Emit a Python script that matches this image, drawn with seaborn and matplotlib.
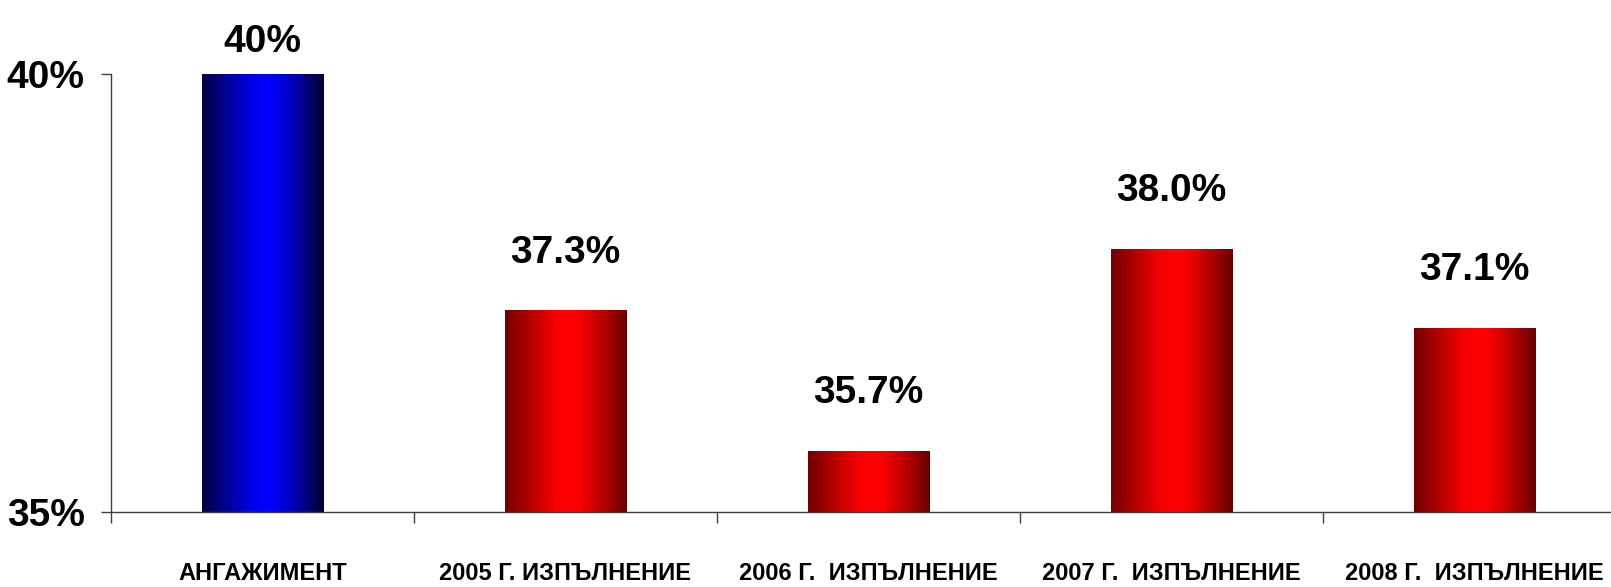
import numpy as np
import pandas as pd
import matplotlib
matplotlib.use('Agg')
import matplotlib.pyplot as plt
import seaborn as sns
from matplotlib.colors import LinearSegmentedColormap

# Chart data
categories = ['АНГАЖИМЕНТ', '2005 Г. ИЗПЪЛНЕНИЕ', '2006 Г.  ИЗПЪЛНЕНИЕ',
              '2007 Г.  ИЗПЪЛНЕНИЕ', '2008 Г.  ИЗПЪЛНЕНИЕ']
values = [40.0, 37.3, 35.7, 38.0, 37.1]
value_labels = ['40%', '37.3%', '35.7%', '38.0%', '37.1%']
ytick_values = [35, 40]
ytick_labels = ['35%', '40%']
kinds = ['target', 'actual', 'actual', 'actual', 'actual']

df = pd.DataFrame({'category': categories, 'value': values, 'kind': kinds})

sns.set_theme(style='white')
plt.rcParams['font.family'] = ['Liberation Sans', 'DejaVu Sans']
plt.rcParams['font.weight'] = 'bold'

fig = plt.figure(figsize=(16.11, 5.87), dpi=100)
ax = fig.add_axes([0.0689, 0.1278, 0.9404, 0.7462])

sns.barplot(data=df, x='category', y='value', hue='kind', dodge=False,
            palette={'target': '#0000ff', 'actual': '#ff0000'},
            width=0.4, legend=False, ax=ax)

ax.set_ylim(35, 40)
ax.set_xlim(-0.5, len(categories) - 0.5)

# gradient fills: dark edges, bright middle
cmaps = {
    'target': LinearSegmentedColormap.from_list(
        'blu', [(0, '#000040'), (0.2, '#000095'), (0.42, '#0000ee'), (0.55, '#0000ff'),
                (0.75, '#0000b8'), (1, '#000030')]),
    'actual': LinearSegmentedColormap.from_list(
        'red', [(0, '#700000'), (0.2, '#b40000'), (0.4, '#f20000'), (0.5, '#ff0000'),
                (0.62, '#f80000'), (0.8, '#b80000'), (1, '#680000')]),
}
grad = np.linspace(0, 1, 256).reshape(1, -1)
for patch, kind in zip(ax.patches, kinds):
    x0 = patch.get_x()
    w = patch.get_width()
    h = patch.get_height()
    patch.set_facecolor('none')
    patch.set_edgecolor('none')
    im = ax.imshow(grad, cmap=cmaps[kind], aspect='auto',
                   extent=[x0, x0 + w, 35, h], zorder=2, interpolation='bicubic')
    im.set_clip_path(patch)

# value labels above bars
for i, (v, lab) in enumerate(zip(values, value_labels)):
    ax.text(i, min(v + 0.66, 40.37), lab, ha='center', va='center',
            fontsize=28, fontweight='bold', color='black')

# y axis
ax.set_yticks(ytick_values)
ax.set_yticklabels(ytick_labels, fontsize=28, fontweight='bold', color='black')
ax.tick_params(axis='y', length=7, width=1, color='#404040', pad=12, left=True)

# x axis: labels at centres, tick marks at boundaries
ax.set_xticks(range(len(categories)))
ax.set_xticklabels(categories, fontsize=17, fontweight='bold', color='black')
ax.set_xticks(np.arange(-0.5, len(categories) + 0.5, 1), minor=True)
ax.tick_params(axis='x', which='major', length=0, pad=36)
ax.tick_params(axis='x', which='minor', length=8, width=1, color='#404040', bottom=True)
ax.set_xlabel('')
ax.set_ylabel('')

sns.despine(ax=ax, top=True, right=True)
for s in ['left', 'bottom']:
    ax.spines[s].set_color('#404040')
    ax.spines[s].set_linewidth(1)

fig.savefig('out.png', dpi=100, facecolor='white')
